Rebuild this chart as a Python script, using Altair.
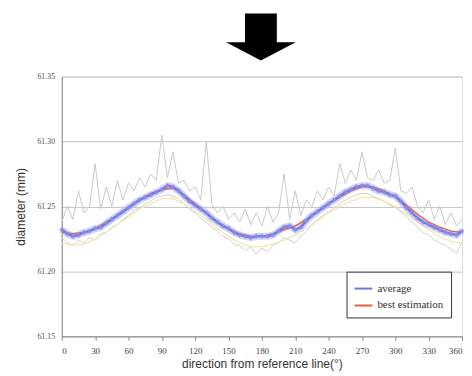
import altair as alt
import pandas as pd

deg5 = list(range(0, 361, 5))
deg10 = list(range(0, 361, 10))

average = [61.232, 61.229, 61.227, 61.228, 61.230, 61.231, 61.233, 61.234, 61.237, 61.240,
           61.243, 61.246, 61.249, 61.252, 61.255, 61.257, 61.259, 61.261, 61.263, 61.266,
           61.265, 61.262, 61.258, 61.254, 61.251, 61.248, 61.245, 61.241, 61.238, 61.235,
           61.233, 61.230, 61.228, 61.227, 61.226, 61.227, 61.227, 61.227, 61.228, 61.231,
           61.234, 61.235, 61.232, 61.234, 61.239, 61.243, 61.246, 61.249, 61.252, 61.255,
           61.258, 61.261, 61.263, 61.265, 61.266, 61.266, 61.264, 61.262, 61.261, 61.259,
           61.258, 61.254, 61.249, 61.245, 61.241, 61.238, 61.236, 61.234, 61.232, 61.230,
           61.229, 61.228, 61.231]

best = [61.230, 61.229, 61.230, 61.233, 61.238, 61.243, 61.249, 61.255, 61.260, 61.263,
        61.264, 61.259, 61.252, 61.245, 61.238, 61.233, 61.229, 61.227, 61.227, 61.229,
        61.232, 61.235, 61.240, 61.246, 61.252, 61.257, 61.262, 61.265, 61.265, 61.262,
        61.257, 61.251, 61.244, 61.238, 61.234, 61.231, 61.230]

grey_upper = [61.238, 61.250, 61.240, 61.262, 61.245, 61.250, 61.283, 61.248, 61.265, 61.250,
              61.270, 61.255, 61.268, 61.262, 61.272, 61.265, 61.275, 61.270, 61.305, 61.272,
              61.292, 61.268, 61.270, 61.262, 61.265, 61.255, 61.300, 61.252, 61.245, 61.250,
              61.240, 61.245, 61.238, 61.248, 61.236, 61.245, 61.235, 61.250, 61.238, 61.245,
              61.275, 61.240, 61.262, 61.243, 61.255, 61.250, 61.262, 61.255, 61.265, 61.258,
              61.283, 61.268, 61.278, 61.270, 61.292, 61.272, 61.270, 61.278, 61.268, 61.270,
              61.295, 61.262, 61.260, 61.265, 61.250, 61.245, 61.255, 61.240, 61.250, 61.236,
              61.245, 61.235, 61.240]

grey_lower = [61.226, 61.222, 61.220, 61.224, 61.222, 61.226, 61.224, 61.229, 61.230, 61.234,
              61.236, 61.240, 61.243, 61.247, 61.249, 61.252, 61.254, 61.257, 61.258, 61.259,
              61.258, 61.256, 61.252, 61.248, 61.245, 61.241, 61.238, 61.234, 61.231, 61.227,
              61.225, 61.221, 61.220, 61.216, 61.219, 61.213, 61.218, 61.215, 61.220, 61.222,
              61.226, 61.224, 61.222, 61.227, 61.231, 61.236, 61.240, 61.243, 61.246, 61.249,
              61.252, 61.255, 61.257, 61.259, 61.260, 61.260, 61.258, 61.256, 61.254, 61.251,
              61.249, 61.246, 61.242, 61.238, 61.234, 61.230, 61.228, 61.224, 61.222, 61.220,
              61.217, 61.214, 61.222]

yellow = [61.222, 61.220, 61.221, 61.225, 61.230, 61.236, 61.242, 61.248, 61.252, 61.256,
          61.256, 61.252, 61.246, 61.240, 61.233, 61.227, 61.222, 61.219, 61.219, 61.221,
          61.224, 61.228, 61.233, 61.239, 61.245, 61.250, 61.254, 61.257, 61.257, 61.254,
          61.250, 61.244, 61.238, 61.232, 61.227, 61.223, 61.222]

x_ticks = list(range(0, 361, 30))
y_ticks = [61.15, 61.20, 61.25, 61.30, 61.35]
series_names = ["average", "best estimation"]
series_colors = ["#7277e0", "#e8603c"]

xs = alt.Scale(domain=[0, 360], nice=False, zero=False)
ys = alt.Scale(domain=[61.15, 61.35], nice=False, zero=False)
X = alt.X("deg:Q", scale=xs,
          axis=alt.Axis(values=x_ticks, title="direction from reference line(°)", grid=False,
                        labelFont="Liberation Serif", labelFontSize=9, labelColor="#444",
                        titleFont="Liberation Sans", titleFontSize=12, titleFontWeight="normal",
                        titleColor="#333", tickColor="#888", tickSize=4, domainColor="#888",
                        labelPadding=6, titlePadding=3))
Y = alt.Y("val:Q", scale=ys,
          axis=alt.Axis(values=y_ticks, format=".2f", title="diameter (mm)", grid=True,
                        gridColor="#c4c4c4", ticks=False, domainColor="#888",
                        labelFont="Liberation Serif", labelFontSize=8, labelColor="#555",
                        labelPadding=7, titleFont="Liberation Sans", titleFontSize=12,
                        titleFontWeight="normal", titleColor="#333", titlePadding=9))

df_up = pd.DataFrame({"deg": deg5, "val": grey_upper})
df_lo = pd.DataFrame({"deg": deg5, "val": grey_lower})
df_ye = pd.DataFrame({"deg": deg10, "val": yellow})
df_avg = pd.DataFrame({"deg": deg5, "val": average, "s": "average"})
df_best = pd.DataFrame({"deg": deg10, "val": best, "s": "best estimation"})

color = alt.Color("s:N", scale=alt.Scale(domain=series_names, range=series_colors),
                  legend=alt.Legend(title=None, orient="none", legendX=286, legendY=196,
                                    fillColor="white", strokeColor="#333", padding=7,
                                    symbolType="stroke", symbolSize=320, symbolStrokeWidth=2,
                                    labelFont="Liberation Serif", labelFontSize=11,
                                    labelColor="#333", rowPadding=2))

up = alt.Chart(df_up).mark_line(color="#c9c9c9", strokeWidth=1).encode(x=X, y=Y)
lo = alt.Chart(df_lo).mark_line(color="#d0d0d8", strokeWidth=1).encode(x=X, y=Y)
ye = alt.Chart(df_ye).mark_line(color="#f3e6a8", strokeWidth=1.2).encode(x=X, y=Y)
halo = alt.Chart(df_avg).mark_line(color="#b4b8f4", strokeWidth=7, opacity=0.6).encode(x=X, y=Y)
best_line = alt.Chart(df_best).mark_line(strokeWidth=1.3).encode(x=X, y=Y, color=color)
avg_line = alt.Chart(df_avg).mark_line(strokeWidth=2.5).encode(x=X, y=Y, color=color)
avg_pts = alt.Chart(df_avg).mark_point(shape="diamond", filled=True, size=30, color="#8a8fee",
                                       opacity=0.8).encode(x=X, y=Y)

arrow_path = "M-0.457,-0.677L0.457,-0.677L0.457,0.151L1,0.151L0,0.674L-1,0.151L-0.457,0.151Z"
arrow = alt.Chart(pd.DataFrame({"a": [0]})).mark_point(
    shape=arrow_path, size=4900, filled=True, color="black", opacity=1, strokeWidth=0
).encode(x=alt.value(200), y=alt.value(-39.6))

chart = alt.layer(up, lo, ye, halo, best_line, avg_line, avg_pts, arrow).properties(
    width=402, height=261,
    autosize=alt.AutoSizeParams(type="none"),
    padding={"left": 54, "top": 68, "right": 2, "bottom": 36},
).configure_view(stroke="#888", strokeWidth=1).configure(background="white")

chart.save("out.html", embed_options={"renderer": "svg", "actions": False})
